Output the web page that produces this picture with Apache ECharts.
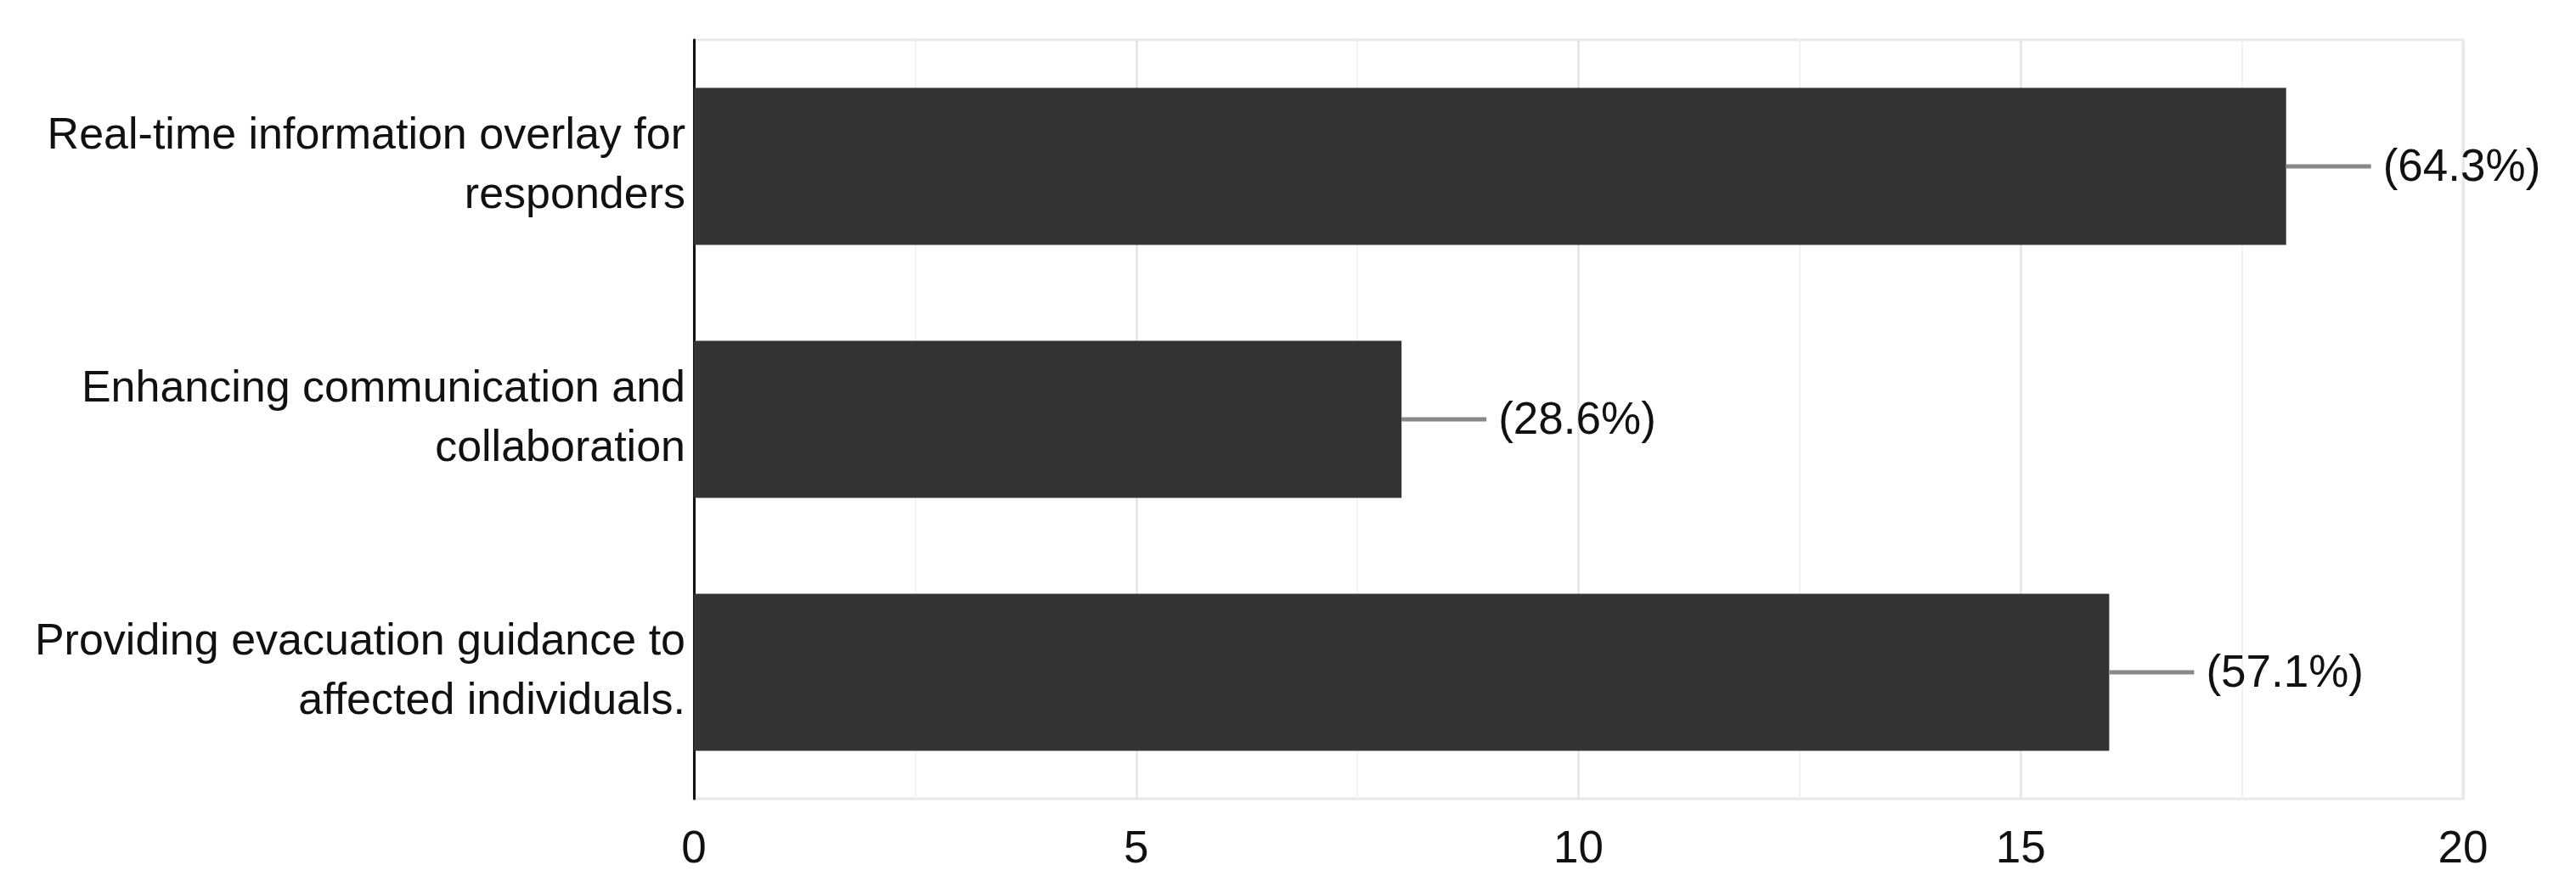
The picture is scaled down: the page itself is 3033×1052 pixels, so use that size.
<!DOCTYPE html>
<html>
<head>
<meta charset="utf-8">
<script src="https://cdn.jsdelivr.net/npm/echarts@6/dist/echarts.min.js"></script>
<style>
  html, body { margin: 0; padding: 0; background: #fff; }
  #chart { width: 3033px; height: 1052px; }
</style>
</head>
<body>
<div id="chart"></div>
<script>
// categories, top to bottom
const categories = [
    'Real-time information overlay for\nresponders',
    'Enhancing communication and\ncollaboration',
    'Providing evacuation guidance to\naffected individuals.'
];
// response counts
const counts = [18, 8, 16];
// percentage labels shown next to each bar
const percentLabels = ['(64.3%)', '(28.6%)', '(57.1%)'];
// x axis range
const xMin = 0;
const xMax = 20;
const xStep = 5;

const FONT = '"Liberation Sans", Arial, sans-serif';
const chart = echarts.init(document.getElementById('chart'));

// leader line + percentage text drawn at the end of each bar
function renderLabel(params, api) {
    const end = api.coord([api.value(0), api.value(1)]);
    return {
        type: 'group',
        children: [
            {
                type: 'line',
                shape: { x1: end[0], y1: end[1], x2: end[0] + 100, y2: end[1] },
                style: { stroke: '#888888', lineWidth: 5 }
            },
            {
                type: 'text',
                x: end[0] + 114,
                y: end[1] + 2,
                style: {
                    text: percentLabels[params.dataIndex],
                    font: '53px ' + FONT,
                    fill: '#111',
                    verticalAlign: 'middle',
                    align: 'left'
                }
            }
        ]
    };
}

chart.setOption({
    animation: false,
    backgroundColor: '#fff',
    grid: {
        left: 817,
        right: 133,
        top: 47,
        bottom: 111,
        show: true,
        borderColor: '#e8e8e8',
        borderWidth: 3
    },
    xAxis: {
        type: 'value',
        min: xMin,
        max: xMax,
        interval: xStep,
        axisLine: { show: false },
        axisTick: { show: false },
        axisLabel: {
            fontSize: 53,
            fontFamily: FONT,
            color: '#111',
            margin: 34
        },
        splitLine: { show: true, lineStyle: { color: '#e8e8e8', width: 3 } },
        minorTick: { show: false, splitNumber: 2 },
        minorSplitLine: { show: true, lineStyle: { color: '#f2f2f2', width: 2 } }
    },
    yAxis: {
        type: 'category',
        data: categories,
        inverse: true,
        axisLine: { show: true, lineStyle: { color: '#111', width: 3 } },
        axisTick: { show: false },
        splitLine: { show: false },
        axisLabel: {
            fontSize: 52,
            fontFamily: FONT,
            color: '#111',
            lineHeight: 70,
            align: 'right',
            margin: 10
        }
    },
    series: [
        {
            type: 'bar',
            data: counts,
            barCategoryGap: '38%',
            itemStyle: { color: '#333333' },
            z: 2
        },
        {
            type: 'custom',
            data: counts.map((v, i) => [v, i]),
            encode: { x: 0, y: 1 },
            renderItem: renderLabel,
            z: 3
        }
    ]
});
</script>
</body>
</html>
